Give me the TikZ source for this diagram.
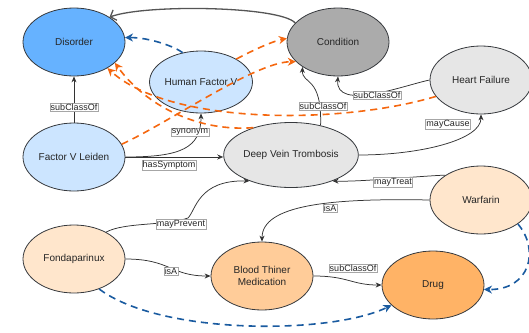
\documentclass[tikz,border=0pt]{standalone}
\usepackage{fontspec}
\setmainfont{Liberation Sans}
\usetikzlibrary{arrows.meta,shapes.geometric}
\definecolor{cDis}{HTML}{66B2FF}
\definecolor{cLB}{HTML}{CCE5FF}
\definecolor{cCond}{HTML}{ABABAB}
\definecolor{cLG}{HTML}{E6E6E6}
\definecolor{cPeach}{HTML}{FFE6CC}
\definecolor{cBTM}{HTML}{FFCC99}
\definecolor{cDrug}{HTML}{FFB366}
\definecolor{cOr}{HTML}{F5670F}
\definecolor{cBl}{HTML}{1A5BA0}
\definecolor{cStroke}{HTML}{36393D}
\definecolor{cEdge}{HTML}{333333}
\definecolor{cCE}{HTML}{555555}
\begin{document}
\begin{tikzpicture}[x=1pt,y=-1pt,
  ent/.style={ellipse, draw=cStroke, line width=0.8pt, minimum width=102pt, minimum height=68pt, inner sep=0pt, font=\fontsize{10}{12}\selectfont, text=black!85, align=center},
  rel/.style={draw=cEdge, line width=0.75pt, -{Stealth[length=6pt,width=5pt]}},
  lbl/.style={fill=white, draw=black!35, line width=0.4pt, inner sep=0.8pt, font=\fontsize{9}{10}\selectfont, text=black!85},
  ordash/.style={draw=cOr, line width=1.6pt, dash pattern=on 7pt off 5pt, -{Stealth[length=8pt,width=8pt,inset=2.5pt]}},
  bldash/.style={draw=cBl, line width=1.6pt, dash pattern=on 7pt off 5pt, -{Stealth[length=8pt,width=8pt,inset=2.5pt]}},
  cedge/.style={draw=cCE, line width=1.3pt, -{Straight Barb[length=5pt,width=11pt]}}]
\useasboundingbox (0,0) rectangle (529,332);
\node[ent, fill=cDis] (dis) at (74,42) {Disorder};
\node[ent, fill=cLB, minimum height=62pt] (hfv) at (201,82) {Human Factor V};
\node[ent, fill=cCond] (cond) at (338,42) {Condition};
\node[ent, fill=cLG] (hf) at (481,80) {Heart Failure};
\node[ent, fill=cLB] (fvl) at (74,157) {Factor V Leiden};
\node[ent, fill=cLG, minimum height=65pt] (dvt) at (291,155) {Deep Vein Trombosis};
\node[ent, fill=cPeach] (war) at (481,200) {Warfarin};
\node[ent, fill=cPeach] (fon) at (74,259) {Fondaparinux};
\node[ent, fill=cBTM] (btm) at (262,276) {Blood Thiner\\Medication};
\node[ent, fill=cDrug] (drug) at (433,285) {Drug};

\draw[cedge] (cond.156) .. controls (280,6) and (145,4) .. (dis.35);
\draw[bldash] (hfv.122) .. controls +(-8,-6) and +(25,0) .. (dis.5);
\draw[rel] (fvl.north) -- (dis.south);
\draw[rel] (fvl.east) .. controls +(55,0) and +(0,35) .. (hfv.south);
\draw[rel] (fvl.east) -- (fvl.east -| dvt.west);
\draw[ordash] (fvl.15) .. controls (170,122) and (255,62) .. (cond.205);
\draw[ordash] (hfv.33) .. controls +(15,-8) and +(-15,3) .. (cond.176);
\draw[ordash] (hf.200) .. controls (340,125) and (170,125) .. (dis.-38);
\draw[ordash] (dvt.144) .. controls (197,132) and (145,105) .. (dis.-27);
\draw[rel] (dvt.45) .. controls (322,75) and (302,85) .. (cond.215);
\draw[rel] (hf.west) .. controls (405,85) and (335,112) .. (cond.south);
\draw[rel] (dvt.east) .. controls (420,155) and (481,140) .. (hf.south);
\draw[rel] (war.145) .. controls (420,176) and (360,182) .. (dvt.-32);
\draw[rel] (war.west) .. controls (330,198) and (262,205) .. (btm.north);
\draw[rel] (fon.40) .. controls (125,222) and (165,226) .. (188,218) .. controls (196,210) and (198,180) .. (dvt.212);
\draw[rel] (fon.east) .. controls +(45,0) and +(-40,0) .. (btm.west);
\draw[rel] (btm.east) .. controls +(35,0) and +(-30,0) .. (drug.west);
\draw[bldash] (fon.-50) .. controls (160,335) and (330,335) .. (drug.206);
\draw[bldash] (war.-33) .. controls (540,250) and (530,290) .. (drug.-5);

\node[lbl] (l1) at (74,107) {subClassOf};
\node[lbl] (l2) at (190,132) {synonym};
\node[lbl] (l3) at (169,165) {hasSymptom};
\node[lbl] (l4) at (323,106) {subClassOf};
\node[lbl] (l5) at (377,95) {subClassOf};
\node[lbl] (l6) at (448,124) {mayCause};
\node[lbl] (l7) at (393,182) {mayTreat};
\node[lbl] (l8) at (330,208) {isA};
\node[lbl] (l9) at (181,224) {mayPrevent};
\node[lbl] (l10) at (171,271) {isA};
\node[lbl] (l11) at (353,268) {subClassOf};
\end{tikzpicture}
\end{document}
